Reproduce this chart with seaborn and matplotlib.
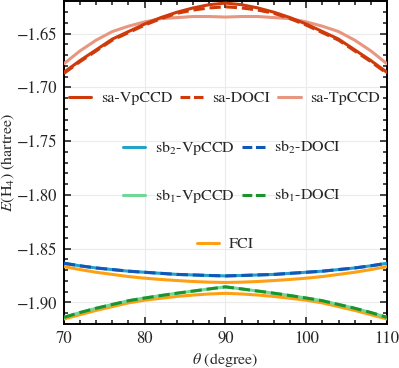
import numpy as np
import pandas as pd
import matplotlib
matplotlib.use("Agg")
import matplotlib.pyplot as plt
import seaborn as sns
from matplotlib.lines import Line2D

# angles (degree)
theta = [70, 72, 74, 76, 78, 80, 82, 84, 86, 88, 90,
         92, 94, 96, 98, 100, 102, 104, 106, 108, 110]

# energies (hartree)
sa_vpccd = [-1.686, -1.675, -1.665, -1.655, -1.648, -1.641, -1.635, -1.630, -1.626, -1.623, -1.6215,
            -1.623, -1.626, -1.630, -1.635, -1.641, -1.648, -1.655, -1.665, -1.675, -1.686]
sa_doci = [-1.687, -1.676, -1.666, -1.656, -1.649, -1.642, -1.636, -1.631, -1.628, -1.626, -1.625,
           -1.626, -1.628, -1.631, -1.636, -1.642, -1.649, -1.656, -1.666, -1.676, -1.687]
sa_tpccd = [-1.678, -1.666, -1.656, -1.648, -1.643, -1.639, -1.636, -1.635, -1.634, -1.634, -1.6345,
            -1.634, -1.634, -1.635, -1.636, -1.639, -1.643, -1.648, -1.656, -1.666, -1.678]
sb2_vpccd = [-1.8636, -1.866, -1.868, -1.8695, -1.871, -1.872, -1.873, -1.874, -1.8745, -1.875, -1.8754,
             -1.875, -1.8745, -1.874, -1.873, -1.872, -1.871, -1.8695, -1.868, -1.866, -1.8636]
sb2_doci = sb2_vpccd
sb1_vpccd = [-1.914, -1.9095, -1.9055, -1.902, -1.8985, -1.896, -1.8937, -1.8915, -1.8895, -1.8875, -1.8856,
             -1.8875, -1.8895, -1.8915, -1.8937, -1.896, -1.8985, -1.902, -1.9055, -1.9095, -1.914]
sb1_doci = sb1_vpccd
fci_upper = [-1.8667, -1.8695, -1.872, -1.874, -1.876, -1.8775, -1.8787, -1.8797, -1.8806, -1.8812, -1.8815,
             -1.8812, -1.8806, -1.8797, -1.8787, -1.8775, -1.876, -1.874, -1.872, -1.8695, -1.8667]
fci_lower = [-1.9155, -1.9115, -1.9075, -1.904, -1.9005, -1.898, -1.8962, -1.8945, -1.8932, -1.8922, -1.8916,
             -1.8922, -1.8932, -1.8945, -1.8962, -1.898, -1.9005, -1.904, -1.9075, -1.9115, -1.9155]

xticks = [70, 80, 90, 100, 110]
yticks = [-1.90, -1.85, -1.80, -1.75, -1.70, -1.65]
ytick_labels = ["\u22121.90", "\u22121.85", "\u22121.80", "\u22121.75", "\u22121.70", "\u22121.65"]

sns.set_style("ticks")
plt.rcParams["font.family"] = ["STIXGeneral", "DejaVu Serif"]
plt.rcParams["mathtext.fontset"] = "stix"
plt.rcParams["font.size"] = 11

fig = plt.figure(figsize=(3.99, 3.68), dpi=100)
ax = fig.add_axes([0.160, 0.120, 0.810, 0.876])

red = "#cf3a0b"
salmon = "#e8967f"
cyan = "#22a3c9"
blue = "#1156b8"
lgreen = "#6fd898"
dgreen = "#1b942b"
orange = "#ffa012"
lw = 2.2

# sa curves
sns.lineplot(x=theta, y=sa_tpccd, ax=ax, color=salmon, lw=lw, zorder=3)
sns.lineplot(x=theta, y=sa_doci, ax=ax, color=red, lw=lw, linestyle="--", zorder=4)
sns.lineplot(x=theta, y=sa_vpccd, ax=ax, color=red, lw=lw, zorder=5)
# FCI
sns.lineplot(x=theta, y=fci_upper, ax=ax, color=orange, lw=lw, zorder=3)
sns.lineplot(x=theta, y=fci_lower, ax=ax, color=orange, lw=lw, zorder=3)
# sb2
sns.lineplot(x=theta, y=sb2_vpccd, ax=ax, color=cyan, lw=lw, zorder=4)
sns.lineplot(x=theta, y=sb2_doci, ax=ax, color=blue, lw=lw, linestyle="--", zorder=5)
# sb1
sns.lineplot(x=theta, y=sb1_vpccd, ax=ax, color=lgreen, lw=lw, zorder=4)
sns.lineplot(x=theta, y=sb1_doci, ax=ax, color=dgreen, lw=lw, linestyle="--", zorder=5)

ax.set_xlim(70, 110)
ax.set_ylim(-1.92, -1.62)
ax.set_xticks(xticks)
ax.set_yticks(yticks)
ax.set_yticklabels(ytick_labels)
ax.set_xticks(np.arange(70, 111, 2), minor=True)
ax.set_yticks(np.arange(-1.92, -1.619, 0.01), minor=True)
ax.tick_params(which="both", direction="in", top=True, right=True, width=1.2, labelsize=12)
ax.tick_params(which="major", length=5, pad=5)
ax.tick_params(which="minor", length=3)
ax.grid(True, which="major", color="#ebebeb", lw=0.8, zorder=0)
for s in ax.spines.values():
    s.set_linewidth(1.4)
    s.set_color("black")

ax.set_xlabel(r"$\theta$ (degree)", fontsize=11.5)
ax.set_ylabel(r"$E(\mathrm{H}_4)$ (hartree)", fontsize=11.5)
ax.xaxis.set_label_coords(0.5, -0.085)
ax.yaxis.set_label_coords(-0.145, 0.5)


def h(c, ls="-"):
    if ls == "--":
        return Line2D([], [], color=c, lw=lw, dashes=(3.2, 1.2))
    return Line2D([], [], color=c, lw=lw)


leg_kw = dict(frameon=False, fontsize=11.5, handlelength=1.4, handletextpad=0.6,
              columnspacing=0.5, loc="center", borderaxespad=0)
l1 = ax.legend([h(red), h(red, "--"), h(salmon)], ["sa-VpCCD", "sa-DOCI", "sa-TpCCD"],
               ncol=3, bbox_to_anchor=(0.497, 0.70), **leg_kw)
ax.add_artist(l1)
l2 = ax.legend([h(cyan), h(blue, "--")], [r"sb$_2$-VpCCD", r"sb$_2$-DOCI"],
               ncol=2, bbox_to_anchor=(0.52, 0.545), **leg_kw)
ax.add_artist(l2)
l3 = ax.legend([h(lgreen), h(dgreen, "--")], [r"sb$_1$-VpCCD", r"sb$_1$-DOCI"],
               ncol=2, bbox_to_anchor=(0.52, 0.396), **leg_kw)
ax.add_artist(l3)
ax.legend([h(orange)], ["FCI"], ncol=1, bbox_to_anchor=(0.50, 0.247), **leg_kw)

fig.savefig("out.png", dpi=100)
